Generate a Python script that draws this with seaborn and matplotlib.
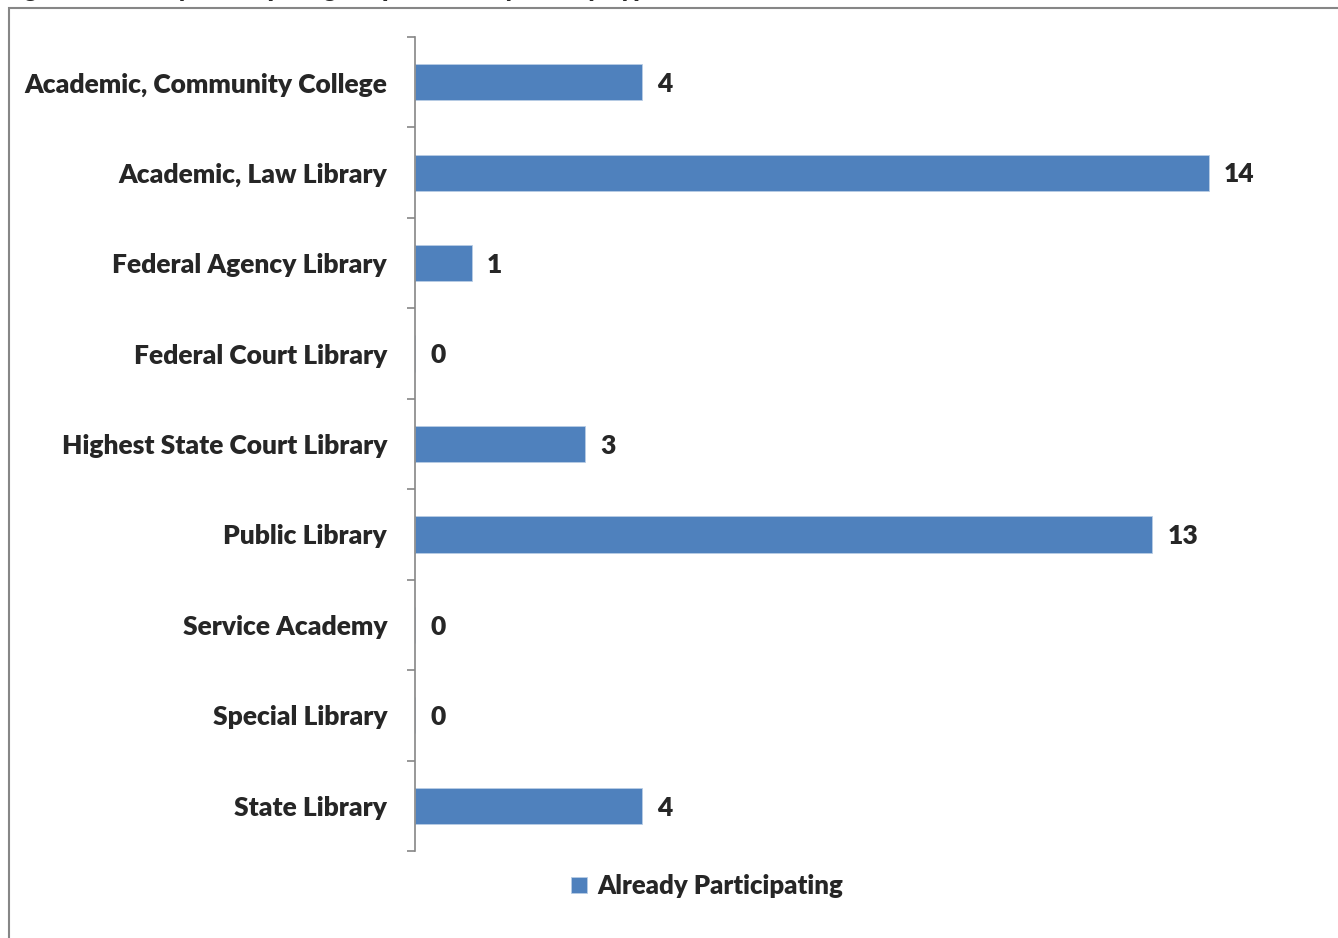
import matplotlib
matplotlib.use('Agg')
import matplotlib.pyplot as plt
from matplotlib.patches import Rectangle
from matplotlib.ticker import FixedLocator
import numpy as np
import pandas as pd
import seaborn as sns

categories = ['Academic, Community College', 'Academic, Law Library', 'Federal Agency Library',
              'Federal Court Library', 'Highest State Court Library', 'Public Library',
              'Service Academy', 'Special Library', 'State Library']
participating = [4, 14, 1, 0, 3, 13, 0, 0, 4]
series_name = 'Already Participating'
title = 'Figure 3: Already Participating Respondents by Library Type: Urban and Suburban Libraries'

df = pd.DataFrame({'library': categories, 'count': participating})

sns.set_style('white')
plt.rcParams['font.family'] = ['Lato', 'DejaVu Sans']

fig = plt.figure(figsize=(13.38, 9.38), dpi=100)
ax = fig.add_axes([415 / 1338, 87 / 938, 907 / 1338, 814 / 938])

sns.barplot(data=df, x='count', y='library', color='#4F81BD', saturation=1, width=0.4,
            label=series_name, ax=ax, edgecolor='#b9cde5', linewidth=0.6)

ax.set_xlim(0, 16)
ax.set_ylim(len(categories) - 0.5, -0.5)
ax.set_xlabel('')
ax.set_ylabel('')
ax.set_xticks([])
for s in ['top', 'right', 'bottom']:
    ax.spines[s].set_visible(False)
ax.spines['left'].set_color('#868686')
ax.spines['left'].set_linewidth(1.2)

ax.tick_params(axis='y', which='major', length=0, pad=20, labelsize=19)
ax.yaxis.set_minor_locator(FixedLocator(np.arange(-0.5, len(categories), 1.0)))
ax.tick_params(axis='y', which='minor', length=6, width=1.2, color='#868686', left=True)
for lbl in ax.get_yticklabels():
    lbl.set_fontweight('heavy')

for i, v in enumerate(participating):
    ax.text(v + 0.27, i + 0.02, str(v), va='center', ha='left', fontsize=19, fontweight='heavy')

leg = ax.legend(loc='center', bbox_to_anchor=(707 / 1338, 52 / 938), bbox_transform=fig.transFigure,
                frameon=False, fontsize=18.5, handlelength=0.6, handleheight=0.6, handletextpad=0.4)
for t in leg.get_texts():
    t.set_fontweight('heavy')

fig.patches.append(Rectangle((9 / 1338, -0.05), 1.0, (938 - 8) / 938 + 0.05,
                             transform=fig.transFigure, fill=False,
                             edgecolor='#868686', linewidth=1.5))
# title is cropped at the top edge in the source image
fig.text(4 / 1338, 1.0 + 10 / 938, title, ha='left', va='center', fontsize=17.5, fontweight='heavy')

fig.savefig('out.png', dpi=100)
